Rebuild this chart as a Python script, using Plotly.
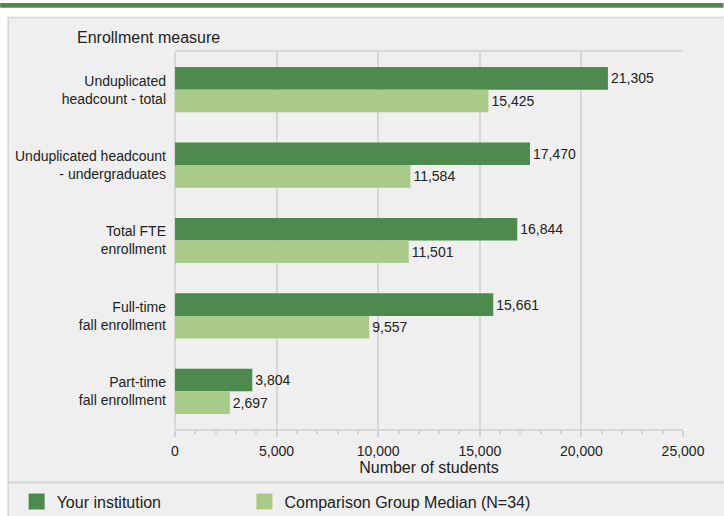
import plotly.graph_objects as go

categories = [
    "Unduplicated<br>headcount - total",
    "Unduplicated headcount<br>- undergraduates",
    "Total FTE<br>enrollment",
    "Full-time<br>fall enrollment",
    "Part-time<br>fall enrollment",
]
your_institution = [21305, 17470, 16844, 15661, 3804]
comparison_median = [15425, 11584, 11501, 9557, 2697]
series_names = ["Your institution", "Comparison Group Median (N=34)"]
x_ticks = [0, 5000, 10000, 15000, 20000, 25000]

DARK = "#4e8a4e"
LIGHT = "#aacb88"
GRID = "#d7d7d7"
FONT = "Liberation Sans, Arial, sans-serif"

W, H = 724, 516
L, R, T, B = 175, 40.5, 52, 87
pw, ph = W - L - R, H - T - B

def px(x):
    return (x - L) / pw

def py(y):
    return (H - B - y) / ph

fig = go.Figure()
fig.add_trace(go.Bar(
    y=categories, x=your_institution, name=series_names[0], orientation="h",
    marker=dict(color=DARK, line=dict(width=0)), showlegend=False,
    texttemplate="%{x:,}", textposition="outside",
    textfont=dict(size=14, color="#222222", family=FONT), cliponaxis=False,
))
fig.add_trace(go.Bar(
    y=categories, x=comparison_median, name=series_names[1], orientation="h",
    marker=dict(color=LIGHT, line=dict(width=0)), showlegend=False,
    texttemplate="%{x:,}", textposition="outside",
    textfont=dict(size=14, color="#222222", family=FONT), cliponaxis=False,
))
# legend entries (square swatches)
fig.add_trace(go.Scatter(
    x=[None], y=[None], mode="markers", name=series_names[0], legend="legend",
    marker=dict(symbol="square", size=16, color=DARK, line=dict(width=0)),
))
fig.add_trace(go.Scatter(
    x=[None], y=[None], mode="markers", name=series_names[1], legend="legend2",
    marker=dict(symbol="square", size=16, color=LIGHT, line=dict(width=0)),
))

shapes = [
    dict(type="rect", xref="paper", yref="paper", x0=px(0), x1=px(W), y0=py(0), y1=py(17),
         fillcolor="white", line=dict(width=0), layer="below"),
    dict(type="rect", xref="paper", yref="paper", x0=px(0), x1=px(7.5), y0=py(0), y1=py(H),
         fillcolor="white", line=dict(width=0), layer="below"),
    dict(type="rect", xref="paper", yref="paper", x0=px(0), x1=px(W), y0=py(3), y1=py(7.8),
         fillcolor=DARK, line=dict(width=0), layer="below"),
    dict(type="line", xref="paper", yref="paper", x0=px(7.5), x1=px(W), y0=py(17.5), y1=py(17.5),
         line=dict(color="#d4d4d4", width=1.5), layer="below"),
    dict(type="line", xref="paper", yref="paper", x0=px(8), x1=px(8), y0=py(17.5), y1=py(H),
         line=dict(color="#d4d4d4", width=1.5), layer="below"),
    dict(type="line", xref="paper", yref="paper", x0=px(8), x1=px(W), y0=py(482.5), y1=py(482.5),
         line=dict(color="#d4d4d4", width=2), layer="below"),
]

legend_common = dict(orientation="h", xanchor="left", yanchor="middle",
                     font=dict(size=16, color="#222222", family=FONT),
                     bgcolor="rgba(0,0,0,0)", itemsizing="trace")

fig.update_layout(
    width=W, height=H,
    margin=dict(l=L, r=R, t=T, b=B, pad=0, autoexpand=False),
    paper_bgcolor="#efefef", plot_bgcolor="#efefef",
    font=dict(family=FONT, size=14, color="#222222"),
    barmode="group", bargap=0.4, bargroupgap=0,
    shapes=shapes,
    showlegend=True,
    legend=dict(x=px(16.5), y=py(501.5), **legend_common),
    legend2=dict(x=px(244.5), y=py(501.5), **legend_common),
    annotations=[
        dict(text="Enrollment measure", xref="paper", yref="paper", x=px(75), y=py(37),
             xanchor="left", yanchor="middle", showarrow=False,
             font=dict(size=16, color="#222222")),
    ],
)
fig.update_xaxes(
    range=[0, 25000], tickvals=x_ticks, tickformat=",", showgrid=True,
    gridcolor=GRID, gridwidth=2, zeroline=True, zerolinecolor=GRID, zerolinewidth=2,
    showline=True, mirror=True, linecolor=GRID, linewidth=2,
    ticks="outside", ticklen=6, tickwidth=1.5, tickcolor="#d0d0d0",
    minor=dict(dtick=1000, ticks="outside", ticklen=3, tickcolor="#d0d0d0", tickwidth=1.5, showgrid=False),
    tickfont=dict(size=14), ticklabelstandoff=2,
    title=dict(text="Number of students", font=dict(size=16), standoff=1),
    fixedrange=True,
)
fig.update_yaxes(
    autorange="reversed", showgrid=False, ticks="", ticklabelstandoff=8,
    tickfont=dict(size=14), showline=False, zeroline=False, fixedrange=True,
)

fig.write_html("out.html", config={"displayModeBar": False},
               post_script="document.body.style.margin='0';document.body.style.padding='0';")
